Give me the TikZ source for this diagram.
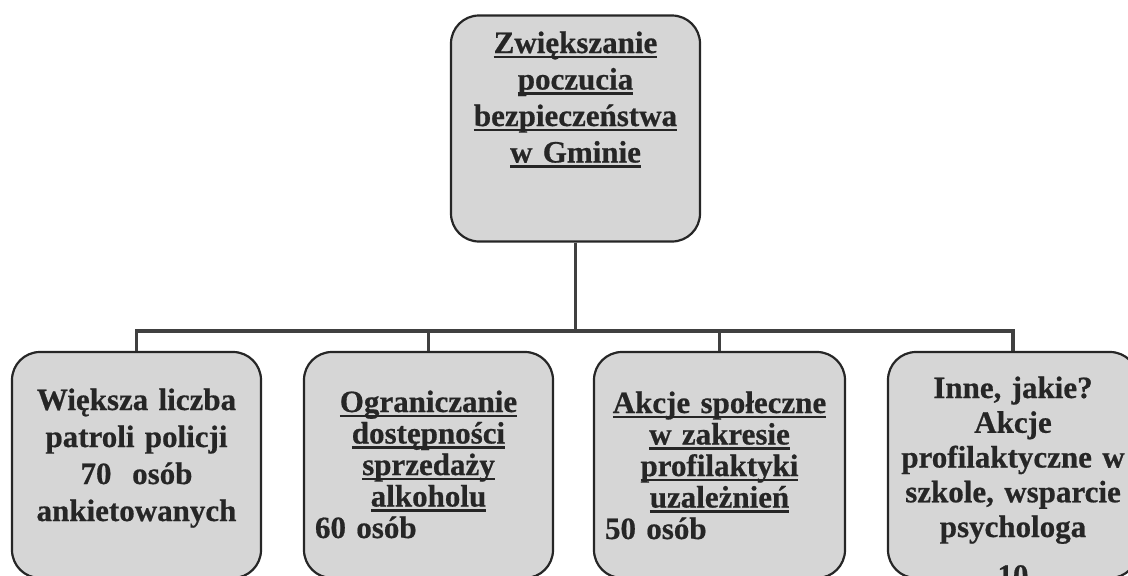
\documentclass[tikz,border=0pt]{standalone}
\usepackage{fontspec}
\setmainfont{Liberation Serif}[BoldFeatures={FakeBold=0.6}]
\usetikzlibrary{positioning}

\newcommand{\uln}[1]{\leavevmode\setbox0\hbox{#1}\rlap{\rule[-5pt]{\wd0}{2.4pt}}\box0}
\newcommand{\fnt}[1]{\fontsize{31}{#1}\selectfont\bfseries}

\begin{document}
\begin{tikzpicture}[x=1pt,y=1pt,
	box/.style={draw=black!85, line width=2.2pt, fill=black!16, rounded corners=28pt,
		minimum width=249pt, minimum height=226pt, text width=227pt, align=center,
		inner sep=0pt, text=black!85, text height=0pt, text depth=#1},
	box/.default=110pt,
	link/.style={draw=black!75, line width=3.5pt}]
	\useasboundingbox (0,0) rectangle (1128,-576);
	\clip (0,0) rectangle (1128,-576);

	\node[box=151pt, font=\fnt{36.5}] (goal) at (575.5,-128.5)
		{\uln{Zwiększanie}\\ \uln{poczucia}\\ \uln{bezpieczeństwa}\\ \uln{w Gminie}};

	\node[box, font=\fnt{37}] (b1) at (136.5,-465) {Większa liczba\\ patroli policji\\ 70 ~osób\\ ankietowanych};
	\node[box=106pt, font=\fnt{31.5}] (b2) at (428.5,-465) {\uln{Ograniczanie}\\ \uln{dostępności}\\ \uln{sprzedaży}\\ \uln{alkoholu}\\ \makebox[\linewidth][l]{60 osób}};
	\node[box=104pt, font=\fnt{31.5}, minimum width=251pt, text width=229pt] (b3) at (719.5,-465) {\uln{Akcje społeczne}\\ \uln{w zakresie}\\ \uln{profilaktyki}\\ \uln{uzależnień}\\ \makebox[\linewidth][l]{50 osób}};
	\node[box=134pt, font=\fnt{34.75}, minimum width=250pt, text width=240pt] (b4) at (1013,-465) {Inne, jakie?\\ Akcje\\ profilaktyczne w\\ szkole, wsparcie\\ psychologa\\[14pt] 10};

	\coordinate (bar) at (575.5,-331);
	\foreach \n in {b1,b2,b3,b4}
		\draw[link] (goal.south) -- (goal.south |- bar) -| (\n.north);
\end{tikzpicture}
\end{document}
